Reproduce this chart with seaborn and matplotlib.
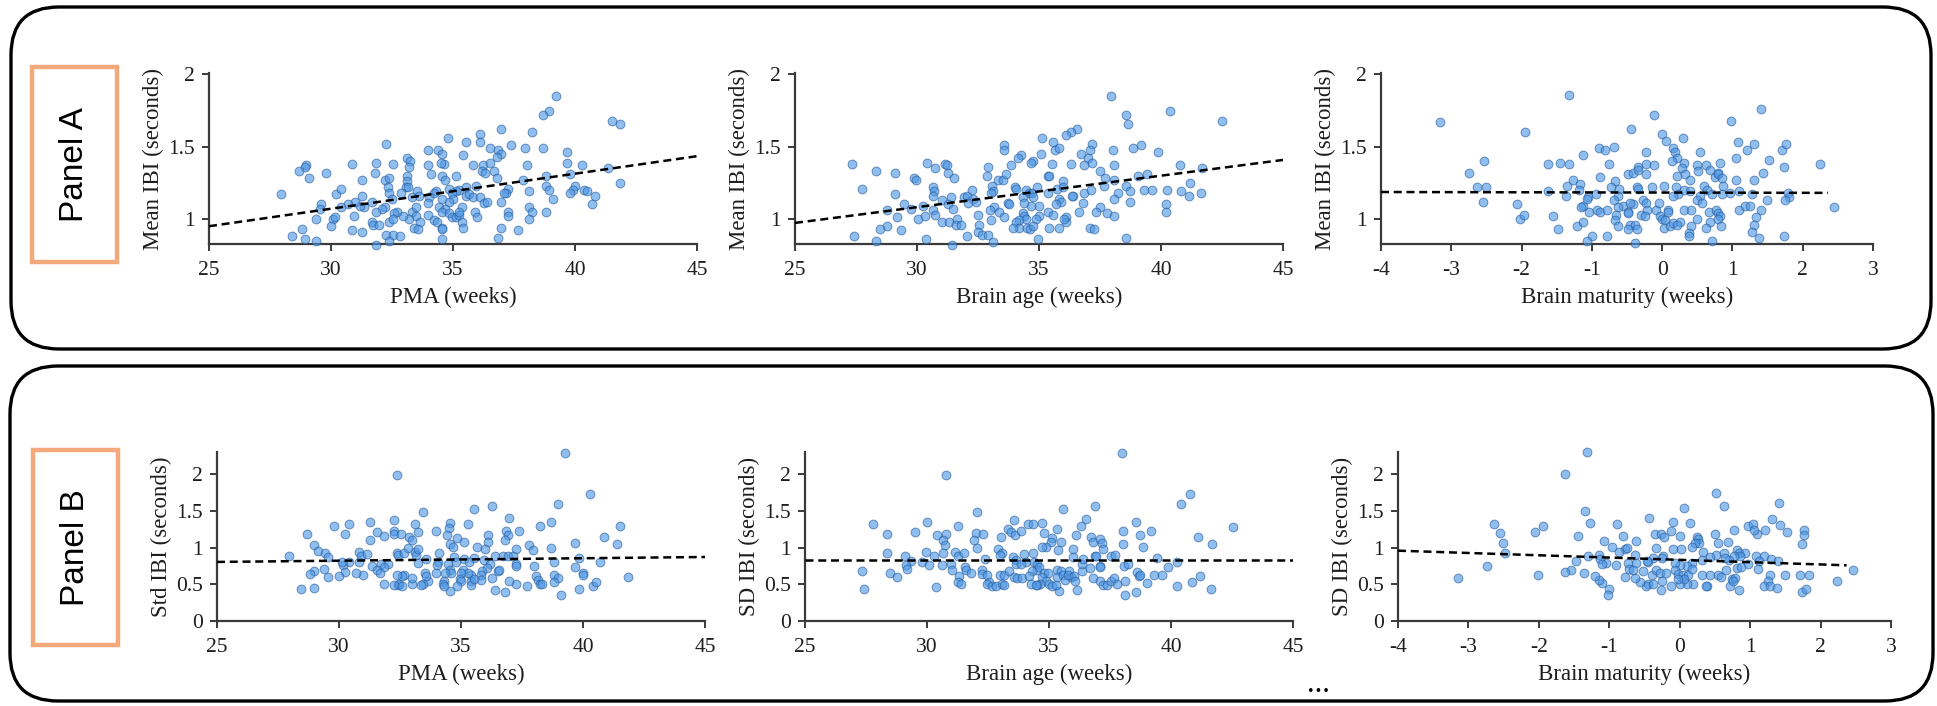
import matplotlib
matplotlib.use("Agg")
import matplotlib.pyplot as plt
from matplotlib.patches import FancyBboxPatch, Rectangle
import seaborn as sns

# ---------------- data ----------------
# Panel A, left: Mean IBI vs PMA
a1_pma = [39.24, 38.94, 38.67, 41.51, 41.83, 38.22, 36.96, 36.12, 36.10, 35.53,
          34.81, 32.26, 33.96, 34.38, 34.55, 36.51, 36.85, 36.96, 36.79, 37.37,
          37.95, 38.67, 39.67, 39.67, 40.27, 41.37, 41.83, 35.40, 33.10, 33.24,
          33.21, 34.62, 34.50, 33.96, 32.53, 31.85, 30.85, 28.98, 28.95, 28.68,
          29.09, 29.80, 27.96, 31.26, 31.82, 32.22, 32.39, 33.10, 33.10, 33.08,
          33.16, 32.35, 32.39, 32.50, 32.86, 33.54, 33.60, 33.32, 34.11, 34.54,
          34.66, 35.11, 35.83, 36.24, 36.53, 36.19, 36.31, 36.69, 36.80, 38.02,
          37.87, 38.81, 39.80, 38.81, 38.94, 39.99, 39.92, 39.80, 40.38, 40.51,
          40.83, 40.68, 39.08, 38.13, 37.24, 37.17, 37.07, 36.96, 38.10, 38.22,
          38.10, 38.81, 37.24, 37.24, 36.96, 36.83, 37.67, 35.94, 35.53, 35.26,
          35.12, 34.95, 34.82, 34.30, 34.24, 34.99, 34.82, 35.53, 35.67, 35.83,
          36.10, 36.28, 36.38, 34.54, 34.03, 33.98, 34.42, 34.68, 34.54, 34.85,
          34.95, 35.11, 35.23, 35.37, 35.26, 35.90, 35.97, 35.36, 35.40, 33.96,
          34.24, 34.33, 34.54, 34.54, 34.54, 33.31, 33.49, 33.49, 33.63, 33.42,
          33.58, 33.20, 32.97, 32.72, 32.57, 32.23, 32.08, 31.85, 31.68, 31.37,
          31.17, 31.26, 30.99, 30.69, 30.42, 30.21, 30.42, 29.57, 29.53, 29.39,
          30.10, 30.17, 29.98, 30.96, 31.67, 31.71, 31.98, 32.37, 32.53, 30.85,
          31.26, 32.26, 32.53, 32.83, 32.39, 31.85, 28.82, 28.41, 28.95, 29.39]
a1_mean_ibi = [1.85, 1.75, 1.72, 1.68, 1.66, 1.60, 1.62, 1.59, 1.53, 1.53,
               1.56, 1.52, 1.48, 1.48, 1.45, 1.49, 1.48, 1.45, 1.43, 1.51,
               1.49, 1.49, 1.46, 1.39, 1.37, 1.35, 1.25, 1.44, 1.42, 1.40,
               1.36, 1.38, 1.39, 1.37, 1.38, 1.39, 1.38, 1.37, 1.36, 1.33,
               1.28, 1.32, 1.17, 1.27, 1.32, 1.27, 1.28, 1.30, 1.26, 1.22,
               1.22, 1.22, 1.18, 1.14, 1.18, 1.19, 1.16, 1.15, 1.31, 1.30,
               1.27, 1.30, 1.37, 1.37, 1.39, 1.33, 1.32, 1.33, 1.28, 1.37,
               1.27, 1.30, 1.31, 1.23, 1.20, 1.23, 1.20, 1.18, 1.20, 1.19,
               1.16, 1.10, 1.14, 1.19, 1.21, 1.18, 1.18, 1.12, 1.08, 1.05,
               1.00, 1.05, 1.05, 1.02, 0.94, 0.87, 0.92, 1.23, 1.22, 1.20,
               1.19, 1.18, 1.21, 1.19, 1.18, 1.14, 1.12, 1.16, 1.17, 1.15,
               1.15, 1.11, 1.12, 1.14, 1.15, 1.11, 1.08, 1.07, 1.05, 1.04,
               1.01, 1.01, 1.03, 1.08, 1.05, 1.05, 1.01, 0.98, 0.94, 1.03,
               0.99, 0.98, 0.94, 0.93, 0.86, 1.05, 1.08, 1.02, 0.98, 0.94,
               0.93, 1.00, 1.02, 1.05, 1.04, 1.08, 1.07, 1.05, 1.12, 1.08,
               1.09, 1.16, 1.12, 1.10, 1.08, 1.17, 1.21, 1.10, 1.07, 1.00,
               1.00, 1.01, 0.95, 1.02, 0.98, 0.96, 0.96, 0.98, 1.00, 0.92,
               0.91, 0.89, 0.89, 0.88, 0.85, 0.82, 0.93, 0.88, 0.86, 0.85]

# Panel A, middle: Mean IBI vs brain age
a2_brain_age = [37.95, 40.38, 38.57, 38.63, 42.51, 36.55, 36.31, 36.11, 35.12, 35.56,
                33.55, 33.58, 35.66, 35.84, 37.18, 37.07, 38.02, 38.84, 39.16, 39.87,
                35.08, 36.72, 37.00, 37.18, 36.83, 36.31, 35.52, 34.77, 34.67, 34.26,
                34.12, 33.85, 27.35, 28.34, 29.09, 30.39, 30.72, 31.16, 31.24, 31.25,
                31.50, 32.92, 32.87, 33.30, 33.54, 33.65, 29.86, 29.95, 27.76, 29.09,
                29.47, 29.75, 30.23, 28.76, 29.17, 30.06, 30.33, 30.64, 30.70, 30.64,
                31.01, 31.41, 31.25, 31.46, 30.64, 30.73, 31.01, 31.32, 31.62, 31.60,
                31.80, 31.94, 32.05, 32.24, 32.28, 32.10, 32.42, 33.07, 33.10, 33.03,
                34.02, 34.06, 34.47, 34.60, 34.70, 34.74, 34.33, 34.92, 35.35, 35.42,
                35.35, 35.72, 35.99, 35.97, 36.38, 36.34, 36.83, 37.13, 37.52, 37.71,
                38.06, 38.09, 37.68, 38.23, 38.09, 38.57, 38.71, 38.71, 39.05, 39.42,
                39.30, 39.64, 40.25, 40.76, 41.68, 41.17, 40.83, 41.13, 41.62, 40.21,
                40.21, 36.79, 36.65, 37.48, 37.34, 37.79, 38.09, 37.11, 37.24, 38.57,
                36.11, 36.11, 36.04, 35.84, 35.91, 35.68, 35.35, 35.56, 35.01, 35.01,
                34.88, 34.67, 34.40, 34.36, 34.40, 34.47, 34.17, 34.06, 34.19, 34.49,
                34.63, 34.74, 33.92, 35.40, 35.84, 34.95, 33.72, 33.75, 33.17, 32.99,
                33.37, 33.58, 33.03, 32.48, 32.55, 32.52, 32.65, 32.89, 33.10, 32.05,
                31.42, 30.36, 29.36, 28.76, 28.49, 28.31, 27.42]
a2_mean_ibi = [1.85, 1.75, 1.72, 1.66, 1.68, 1.62, 1.60, 1.58, 1.56, 1.53,
               1.51, 1.48, 1.48, 1.49, 1.52, 1.48, 1.48, 1.49, 1.51, 1.46,
               1.45, 1.45, 1.42, 1.39, 1.37, 1.38, 1.38, 1.40, 1.39, 1.44,
               1.42, 1.37, 1.38, 1.33, 1.32, 1.39, 1.35, 1.38, 1.37, 1.32,
               1.28, 1.36, 1.30, 1.27, 1.27, 1.31, 1.28, 1.27, 1.21, 1.17,
               1.10, 1.07, 1.09, 1.06, 1.01, 1.00, 1.02, 1.22, 1.19, 1.16,
               1.13, 1.15, 1.10, 1.07, 1.06, 1.03, 0.98, 0.98, 1.00, 0.96,
               0.96, 1.15, 1.16, 1.20, 1.14, 1.11, 1.12, 1.23, 1.19, 1.18,
               1.22, 1.21, 1.20, 1.18, 1.18, 1.15, 1.15, 1.22, 1.30, 1.30,
               1.18, 1.21, 1.26, 1.22, 1.16, 1.16, 1.18, 1.20, 1.33, 1.28,
               1.27, 1.37, 1.23, 1.18, 1.14, 1.23, 1.19, 1.12, 1.30, 1.31,
               1.20, 1.20, 1.20, 1.37, 1.35, 1.25, 1.19, 1.16, 1.18, 1.10,
               1.05, 1.11, 1.05, 1.08, 1.05, 1.04, 1.02, 0.94, 0.93, 0.87,
               1.01, 0.98, 1.00, 1.14, 1.12, 1.10, 1.05, 1.03, 1.09, 1.02,
               1.00, 1.09, 1.11, 1.04, 1.02, 1.00, 0.99, 0.98, 0.94, 0.94,
               0.93, 0.95, 0.94, 0.94, 0.94, 0.86, 1.11, 1.10, 1.08, 1.06,
               1.05, 1.01, 0.99, 1.03, 0.96, 0.91, 0.89, 0.89, 0.84, 0.88,
               0.82, 0.86, 0.92, 0.95, 0.93, 0.85, 0.88]

# Panel A, right: Mean IBI vs brain maturity
a3_maturity = [-1.32, 1.41, -0.11, 0.98, -3.16, -1.95, -0.44, 0.00, 0.05, 0.30,
               -0.90, -0.81, -0.69, 0.15, 0.19, 0.21, 0.54, 1.08, 1.21, 1.31,
               1.71, 1.76, -1.13, -2.53, -1.63, -1.45, -1.32, -0.75, -0.23, -0.23,
               -0.12, -0.48, -0.41, -0.35, -0.34, -0.23, 0.14, 0.31, 0.28, 0.21,
               0.32, 0.40, 0.49, 0.51, 0.63, 0.68, 0.75, 0.82, 0.80, 0.79,
               0.85, 1.05, 1.05, 1.30, 1.43, 1.52, 1.74, 2.24, -2.75, -1.27,
               -1.36, -1.17, -0.89, -0.67, -0.73, -0.62, -0.36, -0.34, -0.15, 0.02,
               0.20, 0.31, 0.22, 0.16, 0.40, 0.60, 0.64, 0.54, 0.87, 0.96,
               1.10, 0.85, 0.71, 1.28, 1.79, 1.81, 1.75, 1.49, 2.45, -2.63,
               -2.50, -2.55, -1.63, -1.37, -1.19, -1.05, -1.07, -0.94, -0.63, -0.69,
               -0.56, -0.63, -1.13, -1.15, -1.04, -0.92, -0.89, -0.79, -0.65, -0.67,
               -0.63, -0.48, -0.49, -0.41, -0.46, -0.27, -0.23, -0.21, -0.30, -0.25,
               -0.09, -0.04, 0.08, 0.09, -0.03, 0.00, 0.04, 0.02, 0.11, 0.16,
               0.26, 0.21, 0.31, 0.41, 0.49, 0.57, 0.66, 0.76, 0.80, 0.83,
               0.80, 0.68, 0.84, 0.49, 0.41, 0.63, 0.38, 0.38, 0.71, 1.10,
               1.18, 1.25, 1.41, 1.33, 1.30, 1.28, 1.38, 1.74, -0.46, -0.38,
               -0.48, -0.36, -0.79, -1.00, -1.07, -1.21, -1.12, -1.48, -1.55, -2.02,
               -1.96, -2.06, -0.39]
a3_mean_ibi = [1.86, 1.76, 1.72, 1.68, 1.67, 1.60, 1.62, 1.59, 1.54, 1.56,
               1.49, 1.48, 1.50, 1.49, 1.46, 1.42, 1.46, 1.53, 1.48, 1.52,
               1.48, 1.52, 1.44, 1.40, 1.38, 1.39, 1.38, 1.38, 1.46, 1.38,
               1.37, 1.31, 1.32, 1.36, 1.34, 1.31, 1.40, 1.39, 1.35, 1.30,
               1.31, 1.27, 1.37, 1.33, 1.37, 1.34, 1.29, 1.39, 1.32, 1.31,
               1.28, 1.42, 1.27, 1.27, 1.32, 1.41, 1.36, 1.38, 1.32, 1.27,
               1.23, 1.24, 1.29, 1.26, 1.22, 1.21, 1.22, 1.21, 1.22, 1.23,
               1.22, 1.20, 1.17, 1.16, 1.19, 1.23, 1.20, 1.16, 1.23, 1.18,
               1.19, 1.17, 1.17, 1.17, 1.18, 1.15, 1.13, 1.13, 1.08, 1.22,
               1.22, 1.12, 1.19, 1.16, 1.20, 1.15, 1.14, 1.17, 1.16, 1.13,
               1.09, 1.08, 1.09, 1.08, 1.05, 1.06, 1.05, 1.06, 1.03, 0.99,
               0.95, 1.05, 1.04, 1.10, 1.11, 1.13, 1.11, 1.06, 1.03, 1.02,
               1.06, 1.11, 1.06, 1.05, 1.02, 1.00, 0.99, 0.94, 0.95, 0.97,
               0.98, 0.96, 1.06, 1.06, 1.13, 1.11, 1.05, 1.06, 1.04, 1.02,
               1.00, 0.98, 0.95, 1.00, 0.95, 0.94, 0.90, 0.88, 0.85, 1.06,
               1.09, 1.09, 1.06, 1.01, 0.96, 0.91, 0.87, 0.88, 0.96, 0.96,
               0.93, 0.93, 0.88, 0.88, 0.85, 0.95, 0.98, 0.93, 1.02, 1.00,
               1.03, 1.10, 0.83]

# Panel B, left: Std IBI vs PMA
b1_pma = [39.26, 32.38, 40.29, 38.96, 36.26, 35.55, 33.43, 32.27, 36.98, 38.69,
          31.27, 30.42, 29.81, 33.11, 34.55, 35.27, 38.24, 41.53, 28.69, 30.26,
          31.56, 31.86, 32.24, 32.27, 32.54, 32.86, 33.25, 32.98, 33.98, 34.52,
          34.43, 34.84, 34.55, 34.66, 35.14, 35.66, 36.12, 36.12, 35.98, 36.84,
          36.94, 36.80, 37.39, 37.25, 37.80, 37.96, 38.69, 39.69, 40.85, 41.39,
          31.27, 28.99, 29.13, 29.43, 29.54, 27.96, 30.83, 30.89, 31.13, 30.42,
          30.15, 30.83, 31.36, 31.71, 31.99, 31.86, 31.56, 31.69, 32.38, 32.43,
          32.68, 32.84, 33.11, 33.16, 33.25, 33.25, 33.57, 34.11, 34.04, 34.00,
          34.45, 34.73, 34.80, 35.14, 35.55, 35.34, 35.07, 35.96, 36.17, 36.39,
          36.72, 36.93, 37.13, 37.25, 37.25, 37.98, 38.83, 39.82, 39.69, 40.70,
          39.99, 40.01, 38.83, 38.96, 38.83, 38.07, 38.14, 38.24, 37.69, 37.25,
          36.98, 36.82, 36.39, 36.26, 36.50, 36.57, 36.06, 35.85, 35.82, 35.82,
          35.41, 35.41, 35.41, 35.52, 35.27, 35.00, 34.96, 35.00, 34.82, 34.56,
          34.56, 34.59, 34.34, 34.29, 34.25, 34.32, 33.98, 33.66, 33.52, 33.57,
          33.43, 33.36, 32.98, 32.98, 32.68, 32.58, 32.38, 32.40, 32.47, 32.24,
          32.57, 31.86, 30.97, 30.70, 30.26, 29.99, 29.56, 28.96, 28.83, 29.40,
          30.12, 28.44, 28.96, 39.82, 40.40, 40.53, 41.86, 39.10, 38.32]
b1_std_ibi = [2.29, 1.99, 1.73, 1.59, 1.56, 1.53, 1.49, 1.38, 1.40, 1.35,
              1.35, 1.32, 1.29, 1.32, 1.33, 1.32, 1.29, 1.29, 1.19, 1.19,
              1.21, 1.16, 1.23, 1.19, 1.19, 1.14, 1.21, 1.10, 1.23, 1.26,
              1.17, 1.13, 1.05, 1.01, 1.07, 1.01, 1.17, 1.08, 0.98, 1.23,
              1.17, 1.10, 1.23, 0.98, 1.04, 0.96, 1.00, 1.06, 1.14, 1.05,
              1.10, 1.04, 0.95, 0.93, 0.87, 0.89, 0.94, 0.89, 0.91, 0.80,
              0.76, 0.80, 0.75, 0.77, 0.78, 0.74, 0.69, 0.65, 0.93, 0.90,
              0.92, 0.99, 0.94, 0.90, 0.98, 0.79, 0.84, 0.93, 0.80, 0.76,
              0.78, 0.87, 0.80, 0.84, 0.86, 0.80, 0.70, 0.83, 0.78, 0.89,
              0.88, 0.89, 0.88, 0.78, 0.75, 0.75, 0.80, 0.86, 0.74, 0.80,
              0.66, 0.62, 0.62, 0.59, 0.53, 0.61, 0.56, 0.51, 0.48, 0.50,
              0.54, 0.40, 0.42, 0.58, 0.68, 0.69, 0.72, 0.68, 0.62, 0.56,
              0.62, 0.54, 0.49, 0.57, 0.65, 0.66, 0.57, 0.54, 0.47, 0.41,
              0.70, 0.65, 0.65, 0.54, 0.50, 0.47, 0.65, 0.54, 0.65, 0.61,
              0.50, 0.49, 0.51, 0.58, 0.63, 0.61, 0.62, 0.49, 0.50, 0.49,
              0.48, 0.51, 0.62, 0.66, 0.67, 0.61, 0.60, 0.68, 0.64, 0.71,
              0.80, 0.44, 0.45, 0.44, 0.47, 0.53, 0.60, 0.36, 0.50]

# Panel B, middle: SD IBI vs brain age
b2_brain_age = [37.98, 30.79, 40.77, 40.40, 36.89, 35.59, 32.06, 33.57, 36.53, 27.79,
                29.99, 31.27, 34.15, 34.34, 34.70, 36.30, 38.58, 28.35, 29.49, 30.42,
                30.76, 30.67, 30.72, 31.99, 32.31, 31.93, 32.06, 33.04, 33.32, 33.43,
                33.60, 33.87, 34.79, 35.14, 35.07, 34.89, 34.70, 35.31, 35.48, 35.37,
                36.12, 36.71, 36.82, 37.08, 37.16, 37.23, 38.05, 38.05, 38.73, 38.87,
                39.17, 41.12, 41.67, 42.54, 32.92, 33.09, 32.98, 32.38, 33.52, 33.63,
                33.66, 33.96, 34.35, 34.04, 33.84, 34.37, 34.52, 34.49, 34.60, 34.31,
                34.79, 34.96, 34.73, 34.86, 34.62, 34.52, 35.00, 35.11, 35.41, 35.30,
                35.34, 35.48, 35.34, 35.59, 35.66, 35.82, 35.89, 35.79, 36.02, 36.05,
                36.13, 36.34, 36.37, 36.39, 35.99, 35.99, 36.68, 36.89, 36.94, 37.08,
                37.08, 36.82, 37.08, 37.21, 37.36, 37.53, 37.66, 37.80, 37.53, 37.70,
                38.07, 38.25, 38.10, 38.10, 38.55, 38.62, 38.69, 38.73, 39.03, 39.30,
                39.62, 39.44, 39.89, 40.26, 40.26, 40.85, 41.19, 41.63, 28.35, 28.48,
                28.78, 27.35, 27.42, 29.10, 29.36, 29.13, 29.19, 29.81, 29.95, 30.08,
                30.29, 30.38, 30.67, 30.63, 30.97, 31.01, 31.15, 31.28, 31.52, 31.31,
                31.27, 31.38, 31.54, 31.59, 31.82, 32.24, 32.27, 32.47, 32.54, 32.47,
                32.65, 32.81, 33.09, 33.16, 32.98, 33.16, 33.36, 33.57, 33.70, 33.91,
                34.18, 34.25, 34.46]
b2_sd_ibi = [2.29, 1.99, 1.73, 1.59, 1.57, 1.53, 1.49, 1.38, 1.39, 1.32,
             1.35, 1.29, 1.32, 1.32, 1.33, 1.29, 1.35, 1.19, 1.21, 1.17,
             1.19, 1.10, 1.04, 1.20, 1.19, 1.10, 0.99, 1.14, 1.25, 1.21,
             1.17, 1.23, 1.20, 1.13, 1.08, 1.01, 1.01, 1.25, 1.07, 0.97,
             1.17, 1.14, 1.08, 1.11, 1.06, 0.98, 1.23, 1.05, 1.17, 1.01,
             1.23, 1.14, 1.05, 1.28, 0.98, 0.93, 0.90, 0.85, 0.87, 0.83,
             0.78, 0.91, 0.93, 0.80, 0.78, 0.80, 0.77, 0.70, 0.74, 0.68,
             0.66, 0.65, 0.60, 0.54, 0.51, 0.49, 0.50, 0.47, 0.41, 0.49,
             0.69, 0.68, 0.60, 0.62, 0.56, 0.68, 0.60, 0.63, 0.61, 0.54,
             0.42, 0.68, 0.77, 0.85, 0.98, 0.87, 0.72, 0.89, 0.88, 0.75,
             0.74, 0.58, 0.54, 0.49, 0.49, 0.55, 0.58, 0.51, 0.88, 0.90,
             0.75, 0.78, 0.55, 0.35, 0.40, 0.67, 0.61, 0.62, 0.52, 0.62,
             0.62, 0.86, 0.74, 0.80, 0.47, 0.53, 0.61, 0.44, 0.92, 0.65,
             0.60, 0.68, 0.44, 0.89, 0.82, 0.76, 0.71, 0.80, 0.94, 0.76,
             0.89, 0.46, 0.93, 0.76, 0.78, 0.69, 0.94, 0.89, 0.93, 0.61,
             0.53, 0.51, 0.74, 0.69, 0.65, 0.70, 0.64, 0.63, 0.53, 0.51,
             0.47, 0.48, 0.50, 0.49, 0.62, 0.62, 0.68, 0.60, 0.58, 0.58,
             0.61, 0.51, 0.49]

# Panel B, right: SD IBI vs brain maturity
b3_maturity = [-1.31, -1.63, 0.51, 0.63, 1.41, 0.06, -1.35, -0.44, 1.31, -1.27,
               -2.63, -1.94, -2.05, -2.55, -2.51, -2.48, -0.89, -0.10, 0.15, 0.97,
               1.04, 1.43, 1.52, 1.76, 1.76, 1.74, 1.21, 1.10, 1.05, 0.77,
               0.50, 0.55, 0.69, -0.35, -0.26, -0.23, -0.12, 0.00, 0.25, 0.26,
               0.28, 0.21, 0.17, -0.81, -0.62, -1.07, -1.44, -0.96, -0.78, -0.75,
               -0.86, -0.33, -0.10, 0.02, 0.33, 0.51, 0.63, 0.81, 0.84, 0.92,
               0.85, 1.09, 1.19, 1.29, 1.40, 1.12, 0.97, 1.11, 0.77, 0.70,
               0.64, 0.43, 0.31, 0.17, 0.10, 0.00, -0.07, -0.24, -0.25, -0.38,
               -0.45, -0.47, -0.62, -0.74, -0.64, -1.30, -1.15, -1.13, -1.04, -1.11,
               -1.47, -0.90, -0.72, -0.67, -0.52, -0.40, -0.34, -0.28, -0.19, -0.07,
               -0.02, 0.05, 0.12, 0.17, 0.32, 0.43, 0.55, 0.59, 0.66, 0.74,
               0.78, 0.82, 0.87, 1.28, 1.49, 1.71, 1.83, 2.24, 2.46, 1.26,
               1.19, 1.28, 1.38, 1.74, 1.80, 0.84, 0.71, 0.76, 0.39, 0.37,
               0.19, 0.11, 0.00, 0.06, -0.02, -0.13, -0.25, -0.26, -0.45, -0.48,
               -0.38, -0.57, -0.64, -0.78, -1.00, -1.02, -1.11, -1.15, -1.20, -1.36,
               -1.54, -1.63, -2.01, -2.74, -3.15]
b3_sd_ibi = [2.30, 2.00, 1.74, 1.57, 1.60, 1.54, 1.50, 1.40, 1.39, 1.34,
             1.32, 1.29, 1.21, 1.20, 1.06, 0.93, 1.32, 1.35, 1.33, 1.29,
             1.32, 1.31, 1.21, 1.24, 1.17, 1.05, 1.24, 1.19, 1.24, 1.24,
             1.19, 1.06, 1.08, 1.19, 1.19, 1.14, 1.23, 1.16, 1.14, 1.11,
             1.06, 1.06, 1.01, 1.16, 1.09, 1.09, 1.16, 1.01, 0.98, 0.99,
             0.94, 0.99, 0.98, 0.98, 0.94, 0.90, 0.92, 0.96, 0.92, 0.92,
             0.88, 0.88, 0.89, 0.85, 0.81, 0.81, 0.78, 0.71, 0.88, 0.83,
             0.86, 0.87, 0.83, 0.79, 0.75, 0.76, 0.79, 0.88, 0.86, 0.86,
             0.80, 0.81, 0.79, 0.79, 0.90, 0.89, 0.90, 0.84, 0.79, 0.77,
             0.82, 0.76, 0.71, 0.69, 0.68, 0.63, 0.69, 0.66, 0.66, 0.70,
             0.64, 0.63, 0.62, 0.71, 0.63, 0.63, 0.62, 0.60, 0.69, 0.57,
             0.59, 0.72, 0.74, 0.63, 0.62, 0.63, 0.63, 0.55, 0.69, 0.54,
             0.48, 0.48, 0.45, 0.40, 0.44, 0.42, 0.48, 0.55, 0.47, 0.47,
             0.51, 0.51, 0.50, 0.57, 0.57, 0.47, 0.54, 0.42, 0.51, 0.48,
             0.50, 0.53, 0.58, 0.60, 0.44, 0.35, 0.52, 0.56, 0.61, 0.66,
             0.69, 0.67, 0.63, 0.75, 0.59]

# fitted trend lines (end points)
a1_fit_x, a1_fit_y = [25, 45], [0.949, 1.434]
a2_fit_x, a2_fit_y = [25, 45], [0.972, 1.408]
a3_fit_x, a3_fit_y = [-4, 2.36], [1.186, 1.180]
b1_fit_x, b1_fit_y = [25, 45], [0.804, 0.871]
b2_fit_x, b2_fit_y = [25, 45], [0.836, 0.836]
b3_fit_x, b3_fit_y = [-4, 2.37], [0.957, 0.758]

age_ticks = [25, 30, 35, 40, 45]
maturity_ticks = [-4, -3, -2, -1, 0, 1, 2, 3]
mean_ticks = [1, 1.5, 2]
mean_tick_labels = ["1", "1.5", "2"]
sd_ticks = [0, 0.5, 1, 1.5, 2]
sd_tick_labels = ["0", "0.5", "1", "1.5", "2"]

# ---------------- style ----------------
sns.set_theme(style="ticks")
plt.rcParams["font.family"] = ["Liberation Serif", "DejaVu Serif"]
plt.rcParams["axes.unicode_minus"] = False

W, H = 1937, 706
fig = plt.figure(figsize=(W / 100, H / 100), dpi=100)
fig.patch.set_facecolor("white")

# background layer in pixel units for the frames and panel tags
bg = fig.add_axes([0, 0, 1, 1], zorder=-5)
bg.set_xlim(0, W)
bg.set_ylim(H, 0)
bg.axis("off")

for (x0, y0, w, h) in [(11, 7, 1920, 342), (10, 366, 1923, 335)]:
    bg.add_patch(FancyBboxPatch((x0, y0), w, h,
                                boxstyle="round,pad=0,rounding_size=48",
                                fill=False, ec="black", lw=2.4))

orange = "#F4A97C"
for (x0, y0, label) in [(32, 67, "Panel A"), (33, 450, "Panel B")]:
    bg.add_patch(Rectangle((x0, y0), 85, 195, fill=False, ec=orange, lw=3.2))
    bg.text(x0 + 42.5, y0 + 98, label, rotation=90, ha="center", va="center",
            fontsize=24, family=["Liberation Sans", "DejaVu Sans"], color="black")

bg.text(1318, 684, "...", ha="center", va="center", fontsize=22, color="black")

point_face = "#4d97e4"
point_edge = "#22589a"
spine_col = "#3a3a3a"


def px_axes(x_left, x_right, y_top, y_bottom):
    return fig.add_axes([x_left / W, 1 - y_bottom / H,
                         (x_right - x_left) / W, (y_bottom - y_top) / H])


def draw(ax, xs, ys, fx, fy, xlim, xticks, ylim, yticks, ylabels, xlabel, ylabel):
    sns.scatterplot(x=xs, y=ys, ax=ax, s=40, color=point_face,
                    edgecolor=point_edge, linewidth=0.7, alpha=0.62,
                    clip_on=False, legend=False, zorder=3)
    sns.lineplot(x=fx, y=fy, ax=ax, color="black", linewidth=1.8,
                 linestyle=(0, (3.2, 1.9)), zorder=4)
    ax.set_xlim(*xlim)
    ax.set_ylim(*ylim)
    ax.set_xticks(xticks)
    ax.set_xticklabels([str(t) for t in xticks])
    ax.set_yticks(yticks)
    ax.set_yticklabels(ylabels)
    ax.set_facecolor("none")
    sns.despine(ax=ax)
    for s in ("left", "bottom"):
        ax.spines[s].set_color(spine_col)
        ax.spines[s].set_linewidth(1.6)
    ax.tick_params(axis="both", direction="out", length=5, width=1.4,
                   color=spine_col, labelsize=15.5, labelcolor="#1e1e1e")
    ax.tick_params(axis="x", pad=7)
    ax.tick_params(axis="y", pad=5)
    ax.set_xlabel(xlabel, fontsize=16.5, color="#1e1e1e", labelpad=5)
    ax.set_ylabel(ylabel, fontsize=16.5, color="#1e1e1e", labelpad=3)


mean_lim = (0.826, 2.01)
sd_lim = (0, 2.3)

ax = px_axes(209, 697, 73, 244)
draw(ax, a1_pma, a1_mean_ibi, a1_fit_x, a1_fit_y, (25, 45), age_ticks,
     mean_lim, mean_ticks, mean_tick_labels, "PMA (weeks)", "Mean IBI (seconds)")
ax = px_axes(795, 1283, 73, 244)
draw(ax, a2_brain_age, a2_mean_ibi, a2_fit_x, a2_fit_y, (25, 45), age_ticks,
     mean_lim, mean_ticks, mean_tick_labels, "Brain age (weeks)", "Mean IBI (seconds)")
ax = px_axes(1381, 1873, 73, 244)
draw(ax, a3_maturity, a3_mean_ibi, a3_fit_x, a3_fit_y, (-4, 3), maturity_ticks,
     mean_lim, mean_ticks, mean_tick_labels, "Brain maturity (weeks)", "Mean IBI (seconds)")

ax = px_axes(217, 705, 452, 621)
draw(ax, b1_pma, b1_std_ibi, b1_fit_x, b1_fit_y, (25, 45), age_ticks,
     sd_lim, sd_ticks, sd_tick_labels, "PMA (weeks)", "Std IBI (seconds)")
ax = px_axes(805, 1293, 452, 621)
draw(ax, b2_brain_age, b2_sd_ibi, b2_fit_x, b2_fit_y, (25, 45), age_ticks,
     sd_lim, sd_ticks, sd_tick_labels, "Brain age (weeks)", "SD IBI (seconds)")
ax = px_axes(1398, 1891, 452, 621)
draw(ax, b3_maturity, b3_sd_ibi, b3_fit_x, b3_fit_y, (-4, 3), maturity_ticks,
     sd_lim, sd_ticks, sd_tick_labels, "Brain maturity (weeks)", "SD IBI (seconds)")

fig.savefig("out.png", dpi=100, facecolor="white")
